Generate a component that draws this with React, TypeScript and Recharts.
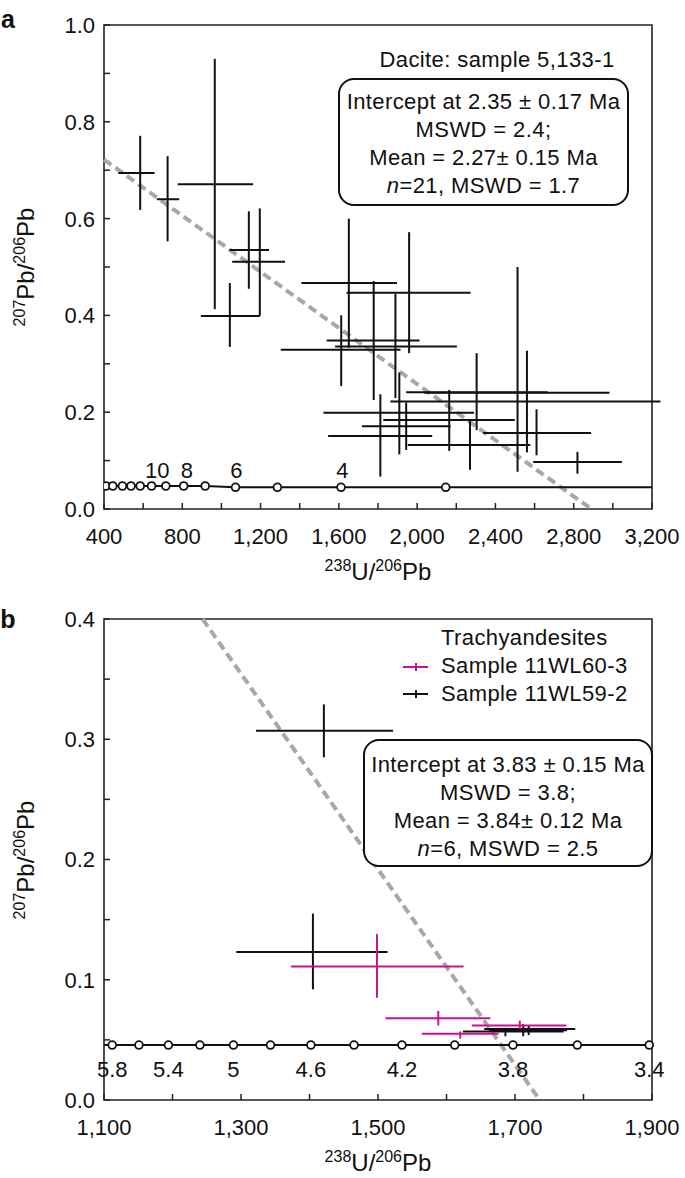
import React from 'react';
import { ScatterChart, Scatter, XAxis, YAxis, ErrorBar, ReferenceLine, ReferenceArea } from 'recharts';

const FONT = '"Liberation Sans", Arial, Helvetica, sans-serif';
const MAGENTA = '#cc1190';
const DASH = '#a8a8a8';

// ---- panel a: dacite 5,133-1 (238U/206Pb vs 207Pb/206Pb, bounds)
const daciteU = [585, 725, 966, 1140, 1196, 1043, 1651, 1959, 1778, 1889, 1612, 2304, 2513, 2561, 1909, 2164, 1944, 2610, 1812, 2270, 2819];
const daciteULo = [473, 670, 776, 1041, 1055, 895, 1409, 1639, 1538, 1581, 1303, 1944, 2038, 1863, 1521, 1827, 1718, 2337, 1545, 1952, 2593];
const daciteUHi = [658, 784, 1162, 1243, 1325, 1196, 1897, 2273, 2012, 2203, 1915, 2667, 2983, 3243, 2291, 2499, 2171, 2889, 2077, 2578, 3046];
const dacitePb = [0.694, 0.64, 0.671, 0.535, 0.511, 0.399, 0.467, 0.447, 0.348, 0.336, 0.329, 0.241, 0.24, 0.222, 0.199, 0.184, 0.171, 0.157, 0.151, 0.132, 0.097];
const dacitePbLo = [0.618, 0.553, 0.413, 0.455, 0.399, 0.335, 0.333, 0.322, 0.225, 0.229, 0.254, 0.163, 0.077, 0.117, 0.113, 0.12, 0.122, 0.111, 0.067, 0.081, 0.073];
const dacitePbHi = [0.771, 0.729, 0.93, 0.615, 0.621, 0.467, 0.6, 0.572, 0.471, 0.445, 0.4, 0.322, 0.5, 0.327, 0.282, 0.246, 0.22, 0.206, 0.237, 0.186, 0.118];

const concA_U = [410, 445, 494, 538, 585, 643, 716, 807, 917, 1072, 1286, 1611, 2146];
const concA_Pb = [0.0475, 0.0475, 0.0475, 0.0475, 0.0475, 0.0475, 0.0475, 0.0475, 0.0475, 0.0448, 0.0448, 0.0448, 0.0448];
const concA_LineU = [400, 917, 1072, 3200];
const concA_LinePb = [0.0475, 0.0475, 0.0448, 0.0448];
const ageA_Text = ['10', '8', '6', '4'];
const ageA_U = [672, 823, 1077, 1618];
const ageA_Pb = [0.08, 0.08, 0.08, 0.08];

const regA_U = [400, 2890];
const regA_Pb = [0.722, 0];

const xTicksA = [400, 600, 800, 1000, 1200, 1400, 1600, 1800, 2000, 2200, 2400, 2600, 2800, 3000, 3200];
const xLabelsA = [400, 800, 1200, 1600, 2000, 2400, 2800, 3200];
const yTicksA = [0, 0.1, 0.2, 0.3, 0.4, 0.5, 0.6, 0.7, 0.8, 0.9, 1.0];
const yLabelsA = [0, 0.2, 0.4, 0.6, 0.8, 1.0];

// ---- panel b: trachyandesites
const s60U = [1498.5, 1588, 1707, 1620];
const s60ULo = [1373, 1511, 1637, 1564];
const s60UHi = [1625, 1664, 1775, 1676];
const s60Pb = [0.111, 0.068, 0.062, 0.055];
const s60PbLo = [0.085, 0.062, 0.059, 0.051];
const s60PbHi = [0.138, 0.074, 0.066, 0.057];

const s59U = [1421, 1405, 1686, 1712, 1720];
const s59ULo = [1322, 1293, 1624, 1655, 1662];
const s59UHi = [1522, 1514, 1771, 1788, 1776];
const s59Pb = [0.307, 0.123, 0.057, 0.059, 0.058];
const s59PbLo = [0.285, 0.092, 0.053, 0.053, 0.054];
const s59PbHi = [0.329, 0.155, 0.06, 0.063, 0.062];

const concB_U = [1112, 1151, 1194, 1240, 1289, 1343, 1402, 1465, 1535, 1612, 1697, 1791, 1896];
const concB_Pb = 0.0457;
const concB_LineU = [1100, 1900];
const ageB_Text = ['5.8', '5.4', '5', '4.6', '4.2', '3.8', '3.4'];
const ageB_U = [1112, 1194, 1289, 1402, 1535, 1697, 1896];
const ageB_Pb = 0.026;

const regB_U = [1244, 1736];
const regB_Pb = [0.4, 0];

const xTicksB = [1100, 1200, 1300, 1400, 1500, 1600, 1700, 1800, 1900];
const xLabelsB = [1100, 1300, 1500, 1700, 1900];
const yTicksB = [0, 0.05, 0.1, 0.15, 0.2, 0.25, 0.3, 0.35, 0.4];
const yLabelsB = [0, 0.1, 0.2, 0.3, 0.4];

function toPoints(x: number[], xLo: number[], xHi: number[], y: number[], yLo: number[], yHi: number[]) {
  return x.map((v, i) => ({
    x: v,
    y: y[i],
    ex: [v - xLo[i], xHi[i] - v],
    ey: [y[i] - yLo[i], yHi[i] - y[i]],
  }));
}

const hasVal = (list: number[], v: number) => list.some((l) => Math.abs(l - v) < 1e-9);

function YTick(props: any) {
  const { x, y, payload, labels } = props;
  const v = payload.value as number;
  return (
    <g>
      <line x1={x} x2={x + 6} y1={y} y2={y} stroke="#222" strokeWidth={1.5} />
      {hasVal(labels, v) && (
        <text x={x - 9} y={y} dy="0.36em" textAnchor="end" fontSize={22} fontFamily={FONT} fill="#111">
          {v.toFixed(1)}
        </text>
      )}
    </g>
  );
}

function XTick(props: any) {
  const { x, y, payload, labels } = props;
  const v = payload.value as number;
  return (
    <g>
      <line x1={x} x2={x} y1={y} y2={y - 6} stroke="#222" strokeWidth={1.5} />
      {hasVal(labels, v) && (
        <text x={x} y={y + 27} dy="0.36em" textAnchor="middle" fontSize={22} fontFamily={FONT} fill="#111">
          {v.toLocaleString('en-US')}
        </text>
      )}
    </g>
  );
}

const noShape = () => <g />;
const ringShape = (p: any) => <circle cx={p.cx} cy={p.cy} r={3.9} fill="#fff" stroke="#111" strokeWidth={1.8} />;
const textShape = (p: any) => (
  <text x={p.cx} y={p.cy} dy="0.36em" textAnchor="middle" fontSize={22} fontFamily={FONT} fill="#111">
    {p.payload.t}
  </text>
);

function Crosses({ data, color }: { data: any[]; color: string }) {
  return (
    <Scatter data={data} shape={noShape} isAnimationActive={false}>
      <ErrorBar dataKey="ex" direction="x" width={0} stroke={color} strokeWidth={2} isAnimationActive={false} />
      <ErrorBar dataKey="ey" direction="y" width={0} stroke={color} strokeWidth={2} isAnimationActive={false} />
    </Scatter>
  );
}

const Sup = ({ children }: { children: React.ReactNode }) => (
  <span style={{ fontSize: 16, position: 'relative', top: -9 }}>{children}</span>
);

const boxStyle: React.CSSProperties = {
  position: 'absolute',
  border: '2px solid #111',
  borderRadius: 16,
  boxSizing: 'border-box',
  textAlign: 'center',
  fontSize: 22,
  lineHeight: '28px',
  letterSpacing: 0.4,
  background: '#fff',
};

const titleStyle: React.CSSProperties = {
  position: 'absolute',
  fontSize: 24,
  whiteSpace: 'nowrap',
};

export default function App() {
  const daciteData = toPoints(daciteU, daciteULo, daciteUHi, dacitePb, dacitePbLo, dacitePbHi);
  const concA = concA_U.map((u, i) => ({ x: u, y: concA_Pb[i] }));
  const concALine = concA_LineU.map((u, i) => ({ x: u, y: concA_LinePb[i] }));
  const ageA = ageA_U.map((u, i) => ({ x: u, y: ageA_Pb[i], t: ageA_Text[i] }));

  const s60Data = toPoints(s60U, s60ULo, s60UHi, s60Pb, s60PbLo, s60PbHi);
  const s59Data = toPoints(s59U, s59ULo, s59UHi, s59Pb, s59PbLo, s59PbHi);
  const concB = concB_U.map((u) => ({ x: u, y: concB_Pb }));
  const concBLine = concB_LineU.map((u) => ({ x: u, y: concB_Pb }));
  const ageB = ageB_U.map((u, i) => ({ x: u, y: ageB_Pb, t: ageB_Text[i] }));

  return (
    <div style={{ position: 'absolute', left: 0, top: 0, width: 685, height: 1178, background: '#fff', fontFamily: FONT, color: '#111' }}>
      {/* panel a */}
      <div style={{ position: 'absolute', left: 0, top: 0 }}>
        <ScatterChart width={685} height={600} margin={{ top: 25, right: 33, bottom: 61, left: 44 }}>
          <XAxis type="number" dataKey="x" domain={[400, 3200]} allowDataOverflow ticks={xTicksA} interval={0}
            axisLine={false} tickLine={false} tickSize={0} tickMargin={0} height={30}
            tick={(p: any) => <XTick {...p} labels={xLabelsA} />} />
          <YAxis type="number" dataKey="y" domain={[0, 1]} ticks={yTicksA} interval={0}
            axisLine={false} tickLine={false} tickSize={0} tickMargin={0} width={60}
            tick={(p: any) => <YTick {...p} labels={yLabelsA} />} />
          <ReferenceArea x1={400} x2={3200} y1={0} y2={1} fill="none" stroke="#222" strokeWidth={1.6} />
          <ReferenceLine segment={[{ x: regA_U[0], y: regA_Pb[0] }, { x: regA_U[1], y: regA_Pb[1] }]}
            stroke={DASH} strokeWidth={4} strokeDasharray="9 5" />
          <Scatter data={concALine} shape={noShape} line={{ stroke: '#111', strokeWidth: 2 }} isAnimationActive={false} />
          <Scatter data={concA} shape={ringShape} isAnimationActive={false} />
          <Scatter data={ageA} shape={textShape} isAnimationActive={false} />
          {Crosses({ data: daciteData, color: '#111' })}
        </ScatterChart>
      </div>

      <div style={{ position: 'absolute', left: 8, top: 19, transform: 'translate(-50%, -50%)', fontWeight: 'bold', fontSize: 25 }}>a</div>
      <div style={{ ...titleStyle, left: 26, top: 267, transform: 'translate(-50%, -50%) rotate(-90deg)' }}>
        <Sup>207</Sup>Pb/<Sup>206</Sup>Pb
      </div>
      <div style={{ ...titleStyle, left: 378, top: 572, transform: 'translate(-50%, -50%)' }}>
        <Sup>238</Sup>U/<Sup>206</Sup>Pb
      </div>
      <div style={{ position: 'absolute', left: 497, top: 60, transform: 'translate(-50%, -50%)', fontSize: 22, letterSpacing: 0.4, whiteSpace: 'nowrap' }}>
        Dacite: sample 5,133-1
      </div>
      <div style={{ ...boxStyle, left: 338, top: 78, width: 291, height: 128, paddingTop: 8 }}>
        <div>Intercept at 2.35 ± 0.17 Ma</div>
        <div>MSWD = 2.4;</div>
        <div>Mean = 2.27± 0.15 Ma</div>
        <div><i>n</i>=21, MSWD = 1.7</div>
      </div>

      {/* panel b */}
      <div style={{ position: 'absolute', left: 0, top: 600 }}>
        <ScatterChart width={685} height={578} margin={{ top: 19, right: 33, bottom: 48, left: 44 }}>
          <XAxis type="number" dataKey="x" domain={[1100, 1900]} ticks={xTicksB} interval={0}
            axisLine={false} tickLine={false} tickSize={0} tickMargin={0} height={30}
            tick={(p: any) => <XTick {...p} labels={xLabelsB} />} />
          <YAxis type="number" dataKey="y" domain={[0, 0.4]} ticks={yTicksB} interval={0}
            axisLine={false} tickLine={false} tickSize={0} tickMargin={0} width={60}
            tick={(p: any) => <YTick {...p} labels={yLabelsB} />} />
          <ReferenceArea x1={1100} x2={1900} y1={0} y2={0.4} fill="none" stroke="#222" strokeWidth={1.6} />
          <ReferenceLine segment={[{ x: regB_U[0], y: regB_Pb[0] }, { x: regB_U[1], y: regB_Pb[1] }]}
            stroke={DASH} strokeWidth={4} strokeDasharray="9 5" />
          <Scatter data={concBLine} shape={noShape} line={{ stroke: '#111', strokeWidth: 2 }} isAnimationActive={false} />
          <Scatter data={concB} shape={ringShape} isAnimationActive={false} />
          <Scatter data={ageB} shape={textShape} isAnimationActive={false} />
          {Crosses({ data: s59Data, color: '#111' })}
          {Crosses({ data: s60Data, color: MAGENTA })}
        </ScatterChart>
      </div>

      <div style={{ position: 'absolute', left: 8, top: 619, transform: 'translate(-50%, -50%)', fontWeight: 'bold', fontSize: 25 }}>b</div>
      <div style={{ ...titleStyle, left: 26, top: 860, transform: 'translate(-50%, -50%) rotate(-90deg)' }}>
        <Sup>207</Sup>Pb/<Sup>206</Sup>Pb
      </div>
      <div style={{ ...titleStyle, left: 378, top: 1163, transform: 'translate(-50%, -50%)' }}>
        <Sup>238</Sup>U/<Sup>206</Sup>Pb
      </div>

      <div style={{ position: 'absolute', left: 441, top: 624, fontSize: 22, lineHeight: '28px', letterSpacing: 0.4, whiteSpace: 'nowrap' }}>
        <div>Trachyandesites</div>
        <div>Sample 11WL60-3</div>
        <div>Sample 11WL59-2</div>
      </div>
      <svg style={{ position: 'absolute', left: 400, top: 660 }} width={32} height={40}>
        <line x1={3} x2={28} y1={7} y2={7} stroke={MAGENTA} strokeWidth={2} />
        <line x1={16} x2={16} y1={3} y2={11} stroke={MAGENTA} strokeWidth={2} />
        <line x1={3} x2={28} y1={34} y2={34} stroke="#111" strokeWidth={2} />
        <line x1={16} x2={16} y1={30} y2={38} stroke="#111" strokeWidth={2} />
      </svg>

      <div style={{ ...boxStyle, left: 363, top: 739, width: 290, height: 128, paddingTop: 10 }}>
        <div>Intercept at 3.83 ± 0.15 Ma</div>
        <div>MSWD = 3.8;</div>
        <div>Mean = 3.84± 0.12 Ma</div>
        <div><i>n</i>=6, MSWD = 2.5</div>
      </div>
    </div>
  );
}
